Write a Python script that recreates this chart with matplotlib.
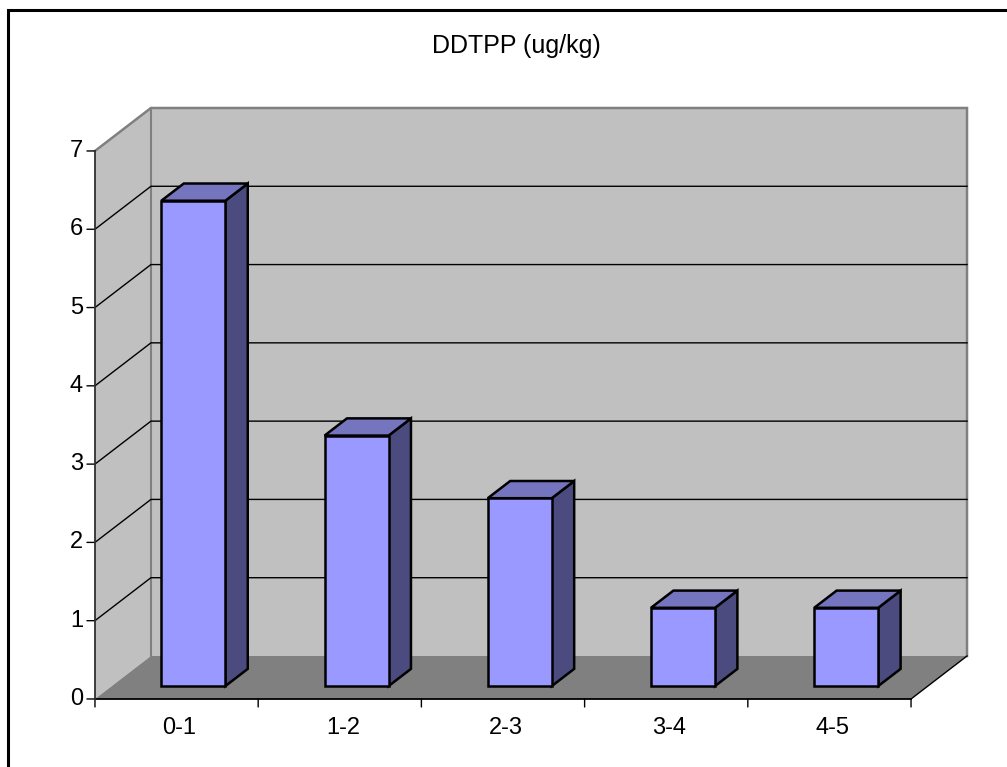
import matplotlib.pyplot as plt
from matplotlib.patches import Polygon, Rectangle
import numpy as np

plt.rcParams['font.family'] = ['Liberation Sans', 'DejaVu Sans']

categories = ['0-1', '1-2', '2-3', '3-4', '4-5']
values = [6.2, 3.2, 2.4, 1.0, 1.0]
yticks = [0, 1, 2, 3, 4, 5, 6, 7]
title = 'DDTPP (ug/kg)'

ymax = 7
ncat = len(categories)
# depth of the box, in data units (x in categories, y in values)
DX = 0.343
DY = 0.549
bar_w = 0.392
bar_front = 0.30   # fraction of depth in front of the bars
bar_depth = 0.40   # fraction of depth taken by the bars

wall = '#c0c0c0'
floor = '#808080'
face = '#9999ff'
top_c = '#7575bf'
side_c = '#4b4b80'

fig = plt.figure(figsize=(10.07, 7.67), dpi=100)
ax = fig.add_axes([0.0943, 0.0887, 0.866, 0.7705])
ax.set_xlim(0, ncat + DX)
ax.set_ylim(0, ymax + DY)
ax.axis('off')

def poly(pts, fc, ec='none', lw=0, z=1):
    ax.add_patch(Polygon(pts, closed=True, facecolor=fc, edgecolor=ec,
                         linewidth=lw, zorder=z, clip_on=False,
                         joinstyle='miter'))

# back wall, side wall, floor
poly([(DX, DY), (ncat + DX, DY), (ncat + DX, ymax + DY), (DX, ymax + DY)], wall)
poly([(0, 0), (DX, DY), (DX, ymax + DY), (0, ymax)], wall)
poly([(0, 0), (ncat, 0), (ncat + DX, DY), (DX, DY)], floor)

# wall edges
ax.plot([0, DX, ncat + DX, ncat + DX], [ymax, ymax + DY, ymax + DY, DY],
        color='#808080', lw=1.8, zorder=2, clip_on=False, solid_joinstyle='miter')
ax.plot([DX, DX], [DY, ymax + DY], color='#808080', lw=1.5, zorder=2, clip_on=False)

# gridlines on side and back walls
for t in yticks[1:-1]:
    ax.plot([0, DX, ncat + DX], [t, t + DY, t + DY], color='black', lw=1.0,
            zorder=2, clip_on=False)

# floor edges
ax.plot([ncat, ncat + DX], [0, DY], color='black', lw=1.0, zorder=2, clip_on=False)

# bars
for i, v in enumerate(values):
    c = i + 0.5
    x0 = c - bar_w / 2 + bar_front * DX
    x1 = c + bar_w / 2 + bar_front * DX
    y0 = bar_front * DY
    ddx = bar_depth * DX
    ddy = bar_depth * DY
    y1 = y0 + v
    kw = dict(ec='black', lw=1.8, z=5)
    poly([(x1, y0), (x1 + ddx, y0 + ddy), (x1 + ddx, y1 + ddy), (x1, y1)], side_c, **kw)
    poly([(x0, y1), (x1, y1), (x1 + ddx, y1 + ddy), (x0 + ddx, y1 + ddy)], top_c, **kw)
    poly([(x0, y0), (x1, y0), (x1, y1), (x0, y1)], face, **kw)

# front axes
ax.plot([0, ncat], [0, 0], color='black', lw=1.3, zorder=6, clip_on=False)
ax.plot([0, 0], [0, ymax], color='#303030', lw=1.3, zorder=6, clip_on=False)

# y ticks and labels
for t in yticks:
    ax.annotate('', xy=(0, t), xytext=(-8, 0), textcoords='offset pixels',
                xycoords='data', annotation_clip=False,
                arrowprops=dict(arrowstyle='-', color='black', lw=1.0,
                                shrinkA=0, shrinkB=0))
    ax.annotate(str(t), xy=(0, t), xytext=(-12, 0), textcoords='offset pixels',
                ha='right', va='center', fontsize=17, annotation_clip=False)

# x ticks at category boundaries, labels at centres
for b in range(ncat + 1):
    ax.annotate('', xy=(b, 0), xytext=(0, -8), textcoords='offset pixels',
                annotation_clip=False,
                arrowprops=dict(arrowstyle='-', color='black', lw=1.0,
                                shrinkA=0, shrinkB=0))
for i, lab in enumerate(categories):
    ax.annotate(lab, xy=(i + 0.5, 0), xytext=(3, -29), textcoords='offset pixels',
                ha='center', va='center', fontsize=17, annotation_clip=False)

fig.text(0.513, 0.940, title, ha='center', va='center', fontsize=18)

# chart border
fig.add_artist(Rectangle((8 / 1007, -0.1), 1.2, 1.1 - 9.5 / 767 + 0.0,
                         transform=fig.transFigure, fill=False,
                         edgecolor='black', linewidth=2.2))

fig.savefig('out.png', dpi=100)
